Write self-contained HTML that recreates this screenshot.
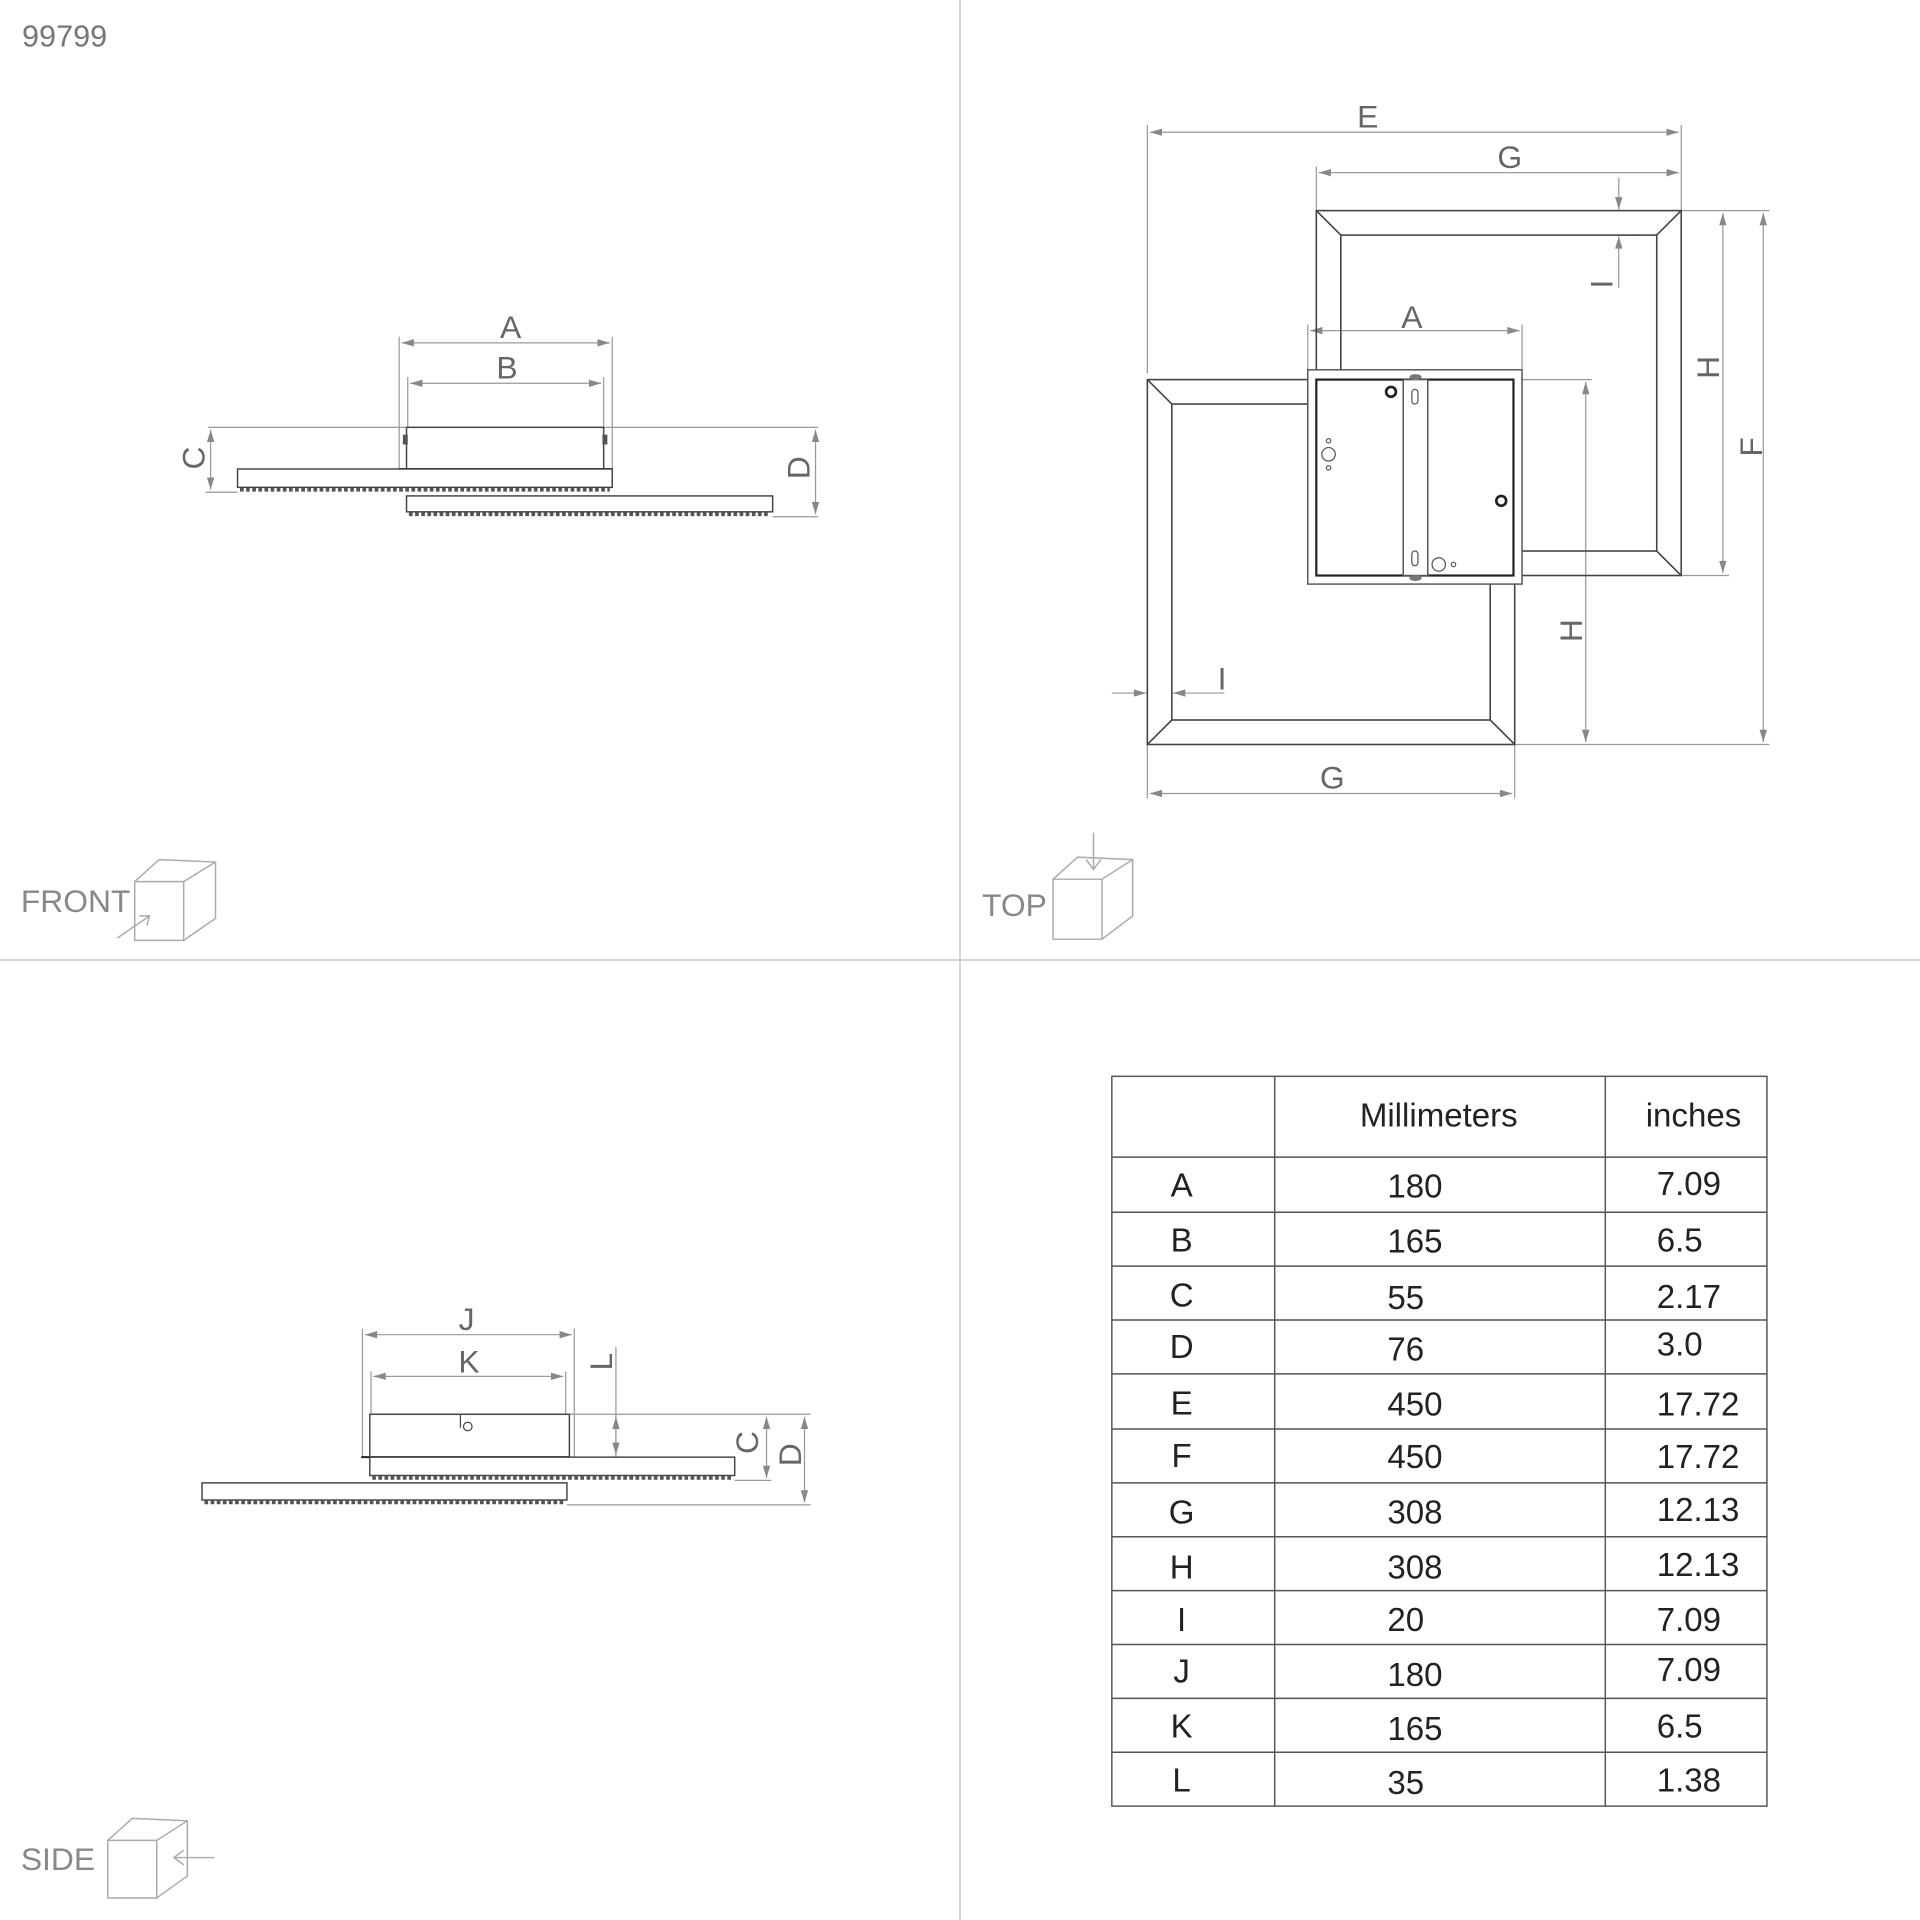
<!DOCTYPE html>
<html><head><meta charset="utf-8"><style>
html,body{margin:0;padding:0;background:#fff;}
svg{display:block;}
text{font-family:"Liberation Sans",sans-serif;}
</style></head><body>
<svg width="1920" height="1920" viewBox="0 0 1568 1568" xmlns="http://www.w3.org/2000/svg">
<defs>
<marker id="ar" viewBox="0 0 10 6" refX="10" refY="3" markerWidth="12" markerHeight="6" markerUnits="userSpaceOnUse" orient="auto-start-reverse"><path d="M0,0 L10,3 L0,6 z" fill="#888"/></marker>
</defs>
<rect width="1568" height="1568" fill="#fff"/>
<line x1="784" y1="0" x2="784" y2="1568" stroke="#c4c4c4" stroke-width="1.2"/>
<line x1="0" y1="784" x2="1568" y2="784" stroke="#c4c4c4" stroke-width="1.2"/>
<text x="18" y="38" font-size="25" fill="#777">99799</text>

<!-- FRONT -->
<g stroke="#999" stroke-width="1" fill="none">
<line x1="326" y1="275" x2="326" y2="383"/><line x1="500" y1="275" x2="500" y2="383"/>
<line x1="333" y1="308" x2="333" y2="349"/><line x1="493" y1="308" x2="493" y2="349"/>
<line x1="170" y1="349" x2="668" y2="349"/>
<line x1="168" y1="402" x2="194" y2="402"/><line x1="631" y1="422" x2="668" y2="422"/>
<line x1="328" y1="280" x2="498" y2="280" marker-start="url(#ar)" marker-end="url(#ar)"/>
<line x1="335" y1="313" x2="491" y2="313" marker-start="url(#ar)" marker-end="url(#ar)"/>
<line x1="172" y1="351" x2="172" y2="400" marker-start="url(#ar)" marker-end="url(#ar)"/>
<line x1="666" y1="351" x2="666" y2="420" marker-start="url(#ar)" marker-end="url(#ar)"/>
</g>
<g stroke="#444" stroke-width="1.2" fill="#fff">
<rect x="332" y="349" width="161" height="34"/>
<line x1="326" y1="383" x2="500" y2="383" stroke="#222" stroke-width="1.6"/>
<rect x="194" y="383" width="306" height="15"/>
<rect x="332" y="405" width="299" height="13"/>
</g>
<g stroke="#555" stroke-width="3" stroke-dasharray="3 2" fill="none">
<line x1="196" y1="400" x2="498" y2="400"/><line x1="334" y1="420" x2="629" y2="420"/>
</g>
<rect x="329" y="355" width="4" height="8" fill="#555"/><rect x="492" y="355" width="4" height="8" fill="#555"/>
<g font-size="26" fill="#666">
<text x="417" y="276" text-anchor="middle">A</text>
<text x="414" y="309" text-anchor="middle">B</text>
<text transform="translate(167,374) rotate(-90)" text-anchor="middle">C</text>
<text transform="translate(661,382) rotate(-90)" text-anchor="middle">D</text>
</g>

<!-- TOP -->
<g stroke="#999" stroke-width="1" fill="none">
<line x1="937" y1="102" x2="937" y2="305"/><line x1="1373" y1="102" x2="1373" y2="172"/>
<line x1="1075" y1="136" x2="1075" y2="172"/>
<line x1="1373" y1="172" x2="1445" y2="172"/><line x1="1373" y1="470" x2="1412" y2="470"/>
<line x1="1237" y1="608" x2="1445" y2="608"/><line x1="1243" y1="310" x2="1300" y2="310"/>
<line x1="1068" y1="265" x2="1068" y2="302"/><line x1="1243" y1="265" x2="1243" y2="302"/>
<line x1="937" y1="608" x2="937" y2="652"/><line x1="1237" y1="608" x2="1237" y2="652"/>
<line x1="1322" y1="192" x2="1335" y2="192"/>
<line x1="939" y1="108" x2="1371" y2="108" marker-start="url(#ar)" marker-end="url(#ar)"/>
<line x1="1077" y1="141" x2="1371" y2="141" marker-start="url(#ar)" marker-end="url(#ar)"/>
<line x1="1070" y1="270" x2="1241" y2="270" marker-start="url(#ar)" marker-end="url(#ar)"/>
<line x1="1407" y1="174" x2="1407" y2="468" marker-start="url(#ar)" marker-end="url(#ar)"/>
<line x1="1440" y1="174" x2="1440" y2="606" marker-start="url(#ar)" marker-end="url(#ar)"/>
<line x1="1295" y1="312" x2="1295" y2="606" marker-start="url(#ar)" marker-end="url(#ar)"/>
<line x1="939" y1="648" x2="1235" y2="648" marker-start="url(#ar)" marker-end="url(#ar)"/>
<line x1="1322" y1="145" x2="1322" y2="171" marker-end="url(#ar)"/>
<line x1="1322" y1="235" x2="1322" y2="193" marker-end="url(#ar)"/>
<line x1="908" y1="566" x2="936" y2="566" marker-end="url(#ar)"/>
<line x1="1000" y1="566" x2="958" y2="566" marker-end="url(#ar)"/>
</g>
<g stroke="#444" stroke-width="1.3" fill="none">
<rect x="1075" y="172" width="298" height="298"/>
<rect x="1095" y="192" width="258" height="258"/>
<line x1="1075" y1="172" x2="1095" y2="192"/><line x1="1373" y1="172" x2="1353" y2="192"/><line x1="1373" y1="470" x2="1353" y2="450"/>
<rect x="937" y="310" width="300" height="298"/>
<rect x="957" y="330" width="260" height="258"/>
<line x1="937" y1="310" x2="957" y2="330"/><line x1="937" y1="608" x2="957" y2="588"/><line x1="1237" y1="608" x2="1217" y2="588"/>
</g>
<rect x="1068" y="302" width="175" height="175" fill="#fff" stroke="#555" stroke-width="1.2"/>
<rect x="1075" y="310" width="161" height="160" fill="#fff" stroke="#222" stroke-width="1.8"/>
<rect x="1146" y="310" width="20" height="160" fill="#fff" stroke="#555" stroke-width="1.2"/>
<rect x="1153" y="318" width="5" height="12" rx="2.5" fill="none" stroke="#555"/>
<rect x="1153" y="450" width="5" height="12" rx="2.5" fill="none" stroke="#555"/>
<ellipse cx="1156" cy="308" rx="5" ry="2.5" fill="#777"/><ellipse cx="1156" cy="472" rx="5" ry="2.5" fill="#777"/>
<circle cx="1136" cy="320" r="4" fill="none" stroke="#222" stroke-width="2.2"/>
<circle cx="1226" cy="409" r="4" fill="none" stroke="#222" stroke-width="2.2"/>
<g fill="none" stroke="#555"><circle cx="1085" cy="371" r="5.5"/><circle cx="1085" cy="360" r="1.8"/><circle cx="1085" cy="382" r="1.8"/><circle cx="1175" cy="461" r="5.5"/><circle cx="1187" cy="461" r="1.8"/></g>
<g font-size="26" fill="#666">
<text x="1117" y="104" text-anchor="middle">E</text>
<text x="1233" y="137" text-anchor="middle">G</text>
<text x="1153" y="268" text-anchor="middle">A</text>
<text x="1088" y="644" text-anchor="middle">G</text>
<text transform="translate(1317,232) rotate(-90)" text-anchor="middle">I</text>
<text transform="translate(1404,300) rotate(-90)" text-anchor="middle">H</text>
<text transform="translate(1439,365) rotate(-90)" text-anchor="middle">F</text>
<text transform="translate(1292,515) rotate(-90)" text-anchor="middle">H</text>
<text x="998" y="563" text-anchor="middle">I</text>
</g>

<!-- SIDE -->
<g stroke="#999" stroke-width="1" fill="none">
<line x1="296" y1="1085" x2="296" y2="1190"/><line x1="469" y1="1085" x2="469" y2="1190"/>
<line x1="303" y1="1120" x2="303" y2="1155"/><line x1="462" y1="1120" x2="462" y2="1155"/>
<line x1="465" y1="1155" x2="662" y2="1155"/>
<line x1="600" y1="1209" x2="630" y2="1209"/><line x1="463" y1="1229" x2="662" y2="1229"/>
<line x1="503" y1="1100" x2="503" y2="1190"/>
<line x1="298" y1="1090" x2="467" y2="1090" marker-start="url(#ar)" marker-end="url(#ar)"/>
<line x1="305" y1="1124" x2="460" y2="1124" marker-start="url(#ar)" marker-end="url(#ar)"/>
<line x1="626" y1="1157" x2="626" y2="1207" marker-start="url(#ar)" marker-end="url(#ar)"/>
<line x1="657" y1="1157" x2="657" y2="1227" marker-start="url(#ar)" marker-end="url(#ar)"/>
<line x1="503" y1="1157" x2="503" y2="1188" marker-start="url(#ar)" marker-end="url(#ar)"/>
</g>
<g stroke="#444" stroke-width="1.2" fill="#fff">
<rect x="302" y="1155" width="163" height="35"/>
<line x1="295" y1="1190" x2="465" y2="1190" stroke="#222" stroke-width="1.6"/>
<rect x="302" y="1190" width="298" height="15"/>
<rect x="165" y="1211" width="298" height="14"/>
</g>
<g stroke="#555" stroke-width="3" stroke-dasharray="3 2" fill="none">
<line x1="304" y1="1207" x2="598" y2="1207"/><line x1="167" y1="1227" x2="461" y2="1227"/>
</g>
<circle cx="382" cy="1165" r="3.5" fill="none" stroke="#444"/><line x1="376" y1="1155" x2="376" y2="1166" stroke="#444"/>
<g font-size="26" fill="#666">
<text x="381" y="1086" text-anchor="middle">J</text>
<text x="383" y="1121" text-anchor="middle">K</text>
<text transform="translate(500,1112) rotate(-90)" text-anchor="middle">L</text>
<text transform="translate(619,1178) rotate(-90)" text-anchor="middle">C</text>
<text transform="translate(654,1188) rotate(-90)" text-anchor="middle">D</text>
</g>

<!-- view labels + cubes -->
<g font-size="26" fill="#888">
<text x="17" y="745">FRONT</text>
<text x="802" y="748">TOP</text>
<text x="17" y="1527">SIDE</text>
</g>
<g stroke="#aaa" stroke-width="1.2" fill="none">
<path d="M110,720 L150,720 L150,768 L110,768 Z M110,720 L130,702 L176,704 L176,750 L150,768 M150,720 L176,704"/>
<path d="M96,766 L122,748 M114,748 L122,748 L120,756"/>
<path d="M860,718 L900,718 L900,767 L860,767 Z M860,718 L880,700 L925,702 L925,748 L900,767 M900,718 L925,702"/>
<path d="M893,680 L893,710 M887,702 L893,710 L899,702"/>
<path d="M88,1503 L128,1503 L128,1550 L88,1550 Z M88,1503 L108,1485 L153,1487 L153,1532 L128,1550 M128,1503 L153,1487"/>
<path d="M175,1517 L142,1517 M150,1511 L142,1517 L150,1523"/>
</g>

<!-- TABLE -->
<g stroke="#555" stroke-width="1.2" fill="none">
<rect x="908" y="879" width="535" height="596"/>
<line x1="1041" y1="879" x2="1041" y2="1475"/><line x1="1311" y1="879" x2="1311" y2="1475"/>
<line x1="908" y1="945" x2="1443" y2="945"/><line x1="908" y1="990" x2="1443" y2="990"/>
<line x1="908" y1="1034" x2="1443" y2="1034"/><line x1="908" y1="1078" x2="1443" y2="1078"/>
<line x1="908" y1="1122" x2="1443" y2="1122"/><line x1="908" y1="1167" x2="1443" y2="1167"/>
<line x1="908" y1="1211" x2="1443" y2="1211"/><line x1="908" y1="1255" x2="1443" y2="1255"/>
<line x1="908" y1="1299" x2="1443" y2="1299"/><line x1="908" y1="1343" x2="1443" y2="1343"/>
<line x1="908" y1="1387" x2="1443" y2="1387"/><line x1="908" y1="1431" x2="1443" y2="1431"/>
</g>
<g font-size="27" fill="#222">
<text x="1175" y="920" text-anchor="middle">Millimeters</text>
<text x="1383" y="920" text-anchor="middle">inches</text>
<g text-anchor="middle">
<text x="965" y="977">A</text><text x="965" y="1022">B</text><text x="965" y="1067">C</text><text x="965" y="1109">D</text>
<text x="965" y="1155">E</text><text x="965" y="1198">F</text><text x="965" y="1244">G</text><text x="965" y="1289">H</text>
<text x="965" y="1332">I</text><text x="965" y="1374">J</text><text x="965" y="1419">K</text><text x="965" y="1463">L</text>
</g>
<text x="1133" y="978">180</text><text x="1133" y="1023">165</text><text x="1133" y="1069">55</text><text x="1133" y="1111">76</text>
<text x="1133" y="1156">450</text><text x="1133" y="1199">450</text><text x="1133" y="1244">308</text><text x="1133" y="1289">308</text>
<text x="1133" y="1332">20</text><text x="1133" y="1377">180</text><text x="1133" y="1421">165</text><text x="1133" y="1465">35</text>
<text x="1353" y="976">7.09</text><text x="1353" y="1022">6.5</text><text x="1353" y="1068">2.17</text><text x="1353" y="1107">3.0</text>
<text x="1353" y="1156">17.72</text><text x="1353" y="1199">17.72</text><text x="1353" y="1242">12.13</text><text x="1353" y="1287">12.13</text>
<text x="1353" y="1332">7.09</text><text x="1353" y="1373">7.09</text><text x="1353" y="1419">6.5</text><text x="1353" y="1463">1.38</text>
</g>
</svg>
</body></html>
